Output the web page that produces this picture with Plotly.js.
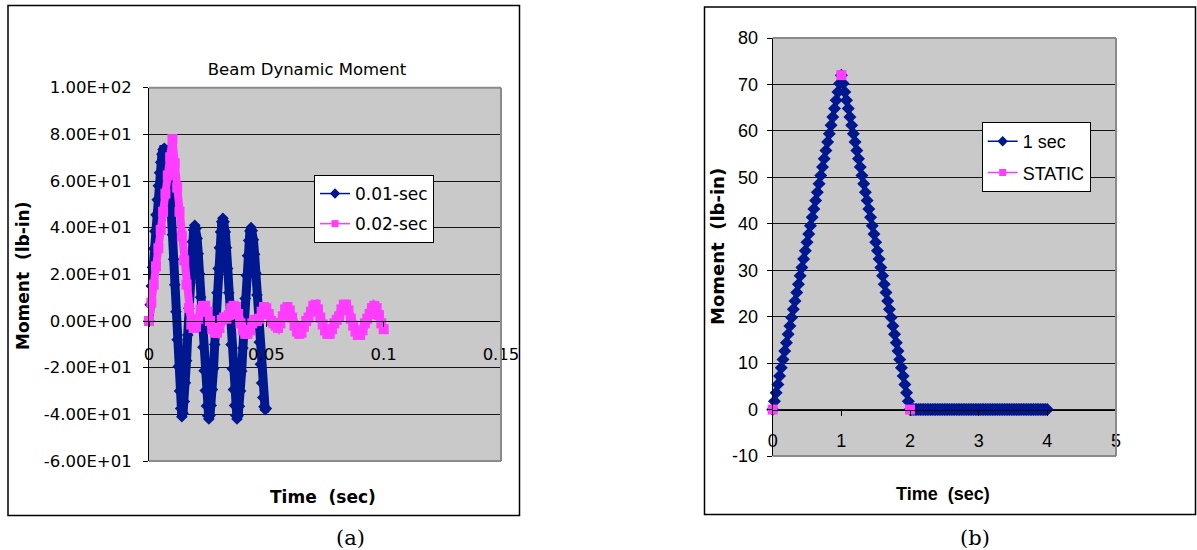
<!DOCTYPE html>
<html>
<head>
<meta charset="utf-8">
<script src="https://cdn.plot.ly/plotly-3.0.1.min.js"></script>
<style>
  html, body { margin: 0; padding: 0; background: #fff; }
  #chart { width: 1197px; height: 550px; }
</style>
</head>
<body>
<div id="chart"></div>
<script>
// ---------- panel (a): beam dynamic moment ----------
const timeA1 = [0, 0.0005, 0.001, 0.0015, 0.002, 0.0025, 0.003, 0.0035, 0.004, 0.0045,
  0.005, 0.0055, 0.006, 0.0065, 0.007, 0.0075, 0.008, 0.0085, 0.009, 0.0095,
  0.01, 0.0105, 0.011, 0.0115, 0.012, 0.0125, 0.013, 0.0135, 0.014, 0.0145,
  0.015, 0.0155, 0.016, 0.0165, 0.017, 0.0175, 0.018, 0.0185, 0.019, 0.0195,
  0.02, 0.0205, 0.021, 0.0215, 0.022, 0.0225, 0.023, 0.0235, 0.024, 0.0245,
  0.025, 0.0255, 0.026, 0.0265, 0.027, 0.0275, 0.028, 0.0285, 0.029, 0.0295,
  0.03, 0.0305, 0.031, 0.0315, 0.032, 0.0325, 0.033, 0.0335, 0.034, 0.0345,
  0.035, 0.0355, 0.036, 0.0365, 0.037, 0.0375, 0.038, 0.0385, 0.039, 0.0395,
  0.04, 0.0405, 0.041, 0.0415, 0.042, 0.0425, 0.043, 0.0435, 0.044, 0.0445,
  0.045, 0.0455, 0.046, 0.0465, 0.047, 0.0475, 0.048, 0.0485, 0.049, 0.0495, 0.05];
const moment001 = [0, 7, 15, 23, 31, 38.5, 45.5, 52, 58, 63.5,
  68, 71.5, 73.5, 74, 73.5, 71.5, 67.5, 62, 55, 46.5,
  37, 26.5, 15.5, 4, -8, -19.5, -30, -37.5, -41, -39.5,
  -34.5, -26.5, -17, -6, 5.5, 16.5, 26.5, 34, 39, 41,
  39.6, 35.4, 28.8, 20.3, 10.2, -0.5, -11.2, -21.3, -29.8, -36.4,
  -40.6, -42, -40.5, -36.2, -29.4, -20.5, -10.1, 1, 12.1, 22.5,
  31.4, 38.2, 42.5, 44, 42.5, 38.2, 31.4, 22.5, 12.1, 1,
  -10.1, -20.5, -29.4, -36.2, -40.5, -42, -40.6, -36.5, -30, -21.5,
  -11.6, -1, 9.6, 19.5, 28, 34.5, 38.6, 40, 38.7, 34.8,
  28.6, 20.5, 11.1, 1, -9.1, -18.5, -26.6, -32.8, -36.7, -38, -37.5];

const timeA2 = [0, 0.001, 0.002, 0.003, 0.004, 0.005, 0.006, 0.007, 0.008, 0.009,
  0.01, 0.011, 0.012, 0.013, 0.014, 0.015, 0.016, 0.017, 0.018, 0.019,
  0.02, 0.021, 0.022, 0.023, 0.024, 0.025, 0.026, 0.027, 0.028, 0.029,
  0.03, 0.031, 0.032, 0.033, 0.034, 0.035, 0.036, 0.037, 0.038, 0.039,
  0.04, 0.041, 0.042, 0.043, 0.044, 0.045, 0.046, 0.047, 0.048, 0.049,
  0.05, 0.051, 0.052, 0.053, 0.054, 0.055, 0.056, 0.057, 0.058, 0.059,
  0.06, 0.061, 0.062, 0.063, 0.064, 0.065, 0.066, 0.067, 0.068, 0.069,
  0.07, 0.071, 0.072, 0.073, 0.074, 0.075, 0.076, 0.077, 0.078, 0.079,
  0.08, 0.081, 0.082, 0.083, 0.084, 0.085, 0.086, 0.087, 0.088, 0.089,
  0.09, 0.091, 0.092, 0.093, 0.094, 0.095, 0.096, 0.097, 0.098, 0.099, 0.1];
const moment002 = [0, 7.8, 15.6, 23.4, 31.2, 39, 46.8, 54.6, 62.4, 70.2,
  78, 67.6, 57.2, 46.8, 36.4, 26, 15.6, 5.5, -1.5, -3,
  -2.5, 1, 5, 6.5, 6.5, 4, 0, -3.5, -5, -5,
  -3, 0.5, 1.5, 1, 2.5, 5.5, 6.5, 6, 3, -1,
  -4, -5.5, -5.5, -4, -1, 0.5, 0, 1, 4, 6,
  5.5, 3, 0, -1, -2, -3, -1, 2, 5, 6,
  4.5, 1.5, -2, -4.5, -5.5, -5, -2.5, 0, 1.5, 4,
  6.5, 7, 5, 1.5, -1.5, -4, -5.5, -5.5, -3.5, -1,
  0.5, 2, 5, 7, 7, 4.5, 1, -2, -4.5, -6,
  -6, -4, -1, 1, 3, 5.5, 6.5, 5.5, 2.5, -1, -3.5];

const xTicksA = [0, 0.05, 0.1, 0.15];
const xTickTextA = ['0', '0.05', '0.1', '0.15'];
const yTicksA = [-60, -40, -20, 0, 20, 40, 60, 80, 100];
const yTickTextA = ['-6.00E+01', '-4.00E+01', '-2.00E+01', '0.00E+00', '2.00E+01',
  '4.00E+01', '6.00E+01', '8.00E+01', '1.00E+02'];
const namesA = ['0.01-sec', '0.02-sec'];

// ---------- panel (b): 1 sec load vs static ----------
const timeB = [0, 0.025, 0.05, 0.075, 0.1, 0.125, 0.15, 0.175, 0.2, 0.225,
  0.25, 0.275, 0.3, 0.325, 0.35, 0.375, 0.4, 0.425, 0.45, 0.475,
  0.5, 0.525, 0.55, 0.575, 0.6, 0.625, 0.65, 0.675, 0.7, 0.725,
  0.75, 0.775, 0.8, 0.825, 0.85, 0.875, 0.9, 0.925, 0.95, 0.975,
  1, 1.025, 1.05, 1.075, 1.1, 1.125, 1.15, 1.175, 1.2, 1.225,
  1.25, 1.275, 1.3, 1.325, 1.35, 1.375, 1.4, 1.425, 1.45, 1.475,
  1.5, 1.525, 1.55, 1.575, 1.6, 1.625, 1.65, 1.675, 1.7, 1.725,
  1.75, 1.775, 1.8, 1.825, 1.85, 1.875, 1.9, 1.925, 1.95, 1.975,
  2, 2.025, 2.05, 2.075, 2.1, 2.125, 2.15, 2.175, 2.2, 2.225,
  2.25, 2.275, 2.3, 2.325, 2.35, 2.375, 2.4, 2.425, 2.45, 2.475,
  2.5, 2.525, 2.55, 2.575, 2.6, 2.625, 2.65, 2.675, 2.7, 2.725,
  2.75, 2.775, 2.8, 2.825, 2.85, 2.875, 2.9, 2.925, 2.95, 2.975,
  3, 3.025, 3.05, 3.075, 3.1, 3.125, 3.15, 3.175, 3.2, 3.225,
  3.25, 3.275, 3.3, 3.325, 3.35, 3.375, 3.4, 3.425, 3.45, 3.475,
  3.5, 3.525, 3.55, 3.575, 3.6, 3.625, 3.65, 3.675, 3.7, 3.725,
  3.75, 3.775, 3.8, 3.825, 3.85, 3.875, 3.9, 3.925, 3.95, 3.975, 4];
const moment1sec = [0, 1.8, 3.6, 5.4, 7.2, 9, 10.8, 12.6, 14.4, 16.2,
  18, 19.8, 21.6, 23.4, 25.2, 27, 28.8, 30.6, 32.4, 34.2,
  36, 37.8, 39.6, 41.4, 43.2, 45, 46.8, 48.6, 50.4, 52.2,
  54, 55.8, 57.6, 59.4, 61.2, 63, 64.8, 66.6, 68.4, 70.2,
  72, 70.2, 68.4, 66.6, 64.8, 63, 61.2, 59.4, 57.6, 55.8,
  54, 52.2, 50.4, 48.6, 46.8, 45, 43.2, 41.4, 39.6, 37.8,
  36, 34.2, 32.4, 30.6, 28.8, 27, 25.2, 23.4, 21.6, 19.8,
  18, 16.2, 14.4, 12.6, 10.8, 9, 7.2, 5.4, 3.6, 1.8,
  0, 0, 0, 0, 0, 0, 0, 0, 0, 0,
  0, 0, 0, 0, 0, 0, 0, 0, 0, 0,
  0, 0, 0, 0, 0, 0, 0, 0, 0, 0,
  0, 0, 0, 0, 0, 0, 0, 0, 0, 0,
  0, 0, 0, 0, 0, 0, 0, 0, 0, 0,
  0, 0, 0, 0, 0, 0, 0, 0, 0, 0,
  0, 0, 0, 0, 0, 0, 0, 0, 0, 0,
  0, 0, 0, 0, 0, 0, 0, 0, 0, 0, 0];
const timeStatic = [0, 1, 2];
const momentStatic = [0, 72, 0];

const xTicksB = [0, 1, 2, 3, 4, 5];
const xTickTextB = ['0', '1', '2', '3', '4', '5'];
const yTicksB = [-10, 0, 10, 20, 30, 40, 50, 60, 70, 80];
const yTickTextB = ['-10', '0', '10', '20', '30', '40', '50', '60', '70', '80'];
const namesB = ['1 sec', 'STATIC'];

// ---------- styling ----------
const W = 1197, H = 550;
const fx = p => p / W;          // pixel column -> paper fraction
const fy = p => 1 - p / H;      // pixel row -> paper fraction
const NAVY = '#00188f';
const PINK = '#ff3cff';
const PLOT_GRAY = '#c9c9c9';
const FRAME_GRAY = '#8a8a8a';
const SANS = 'DejaVu Sans, Verdana, sans-serif';
const ARIAL = 'Liberation Sans, Arial, sans-serif';

const domA = { x: [fx(149), fx(501)], y: [fy(461), fy(87.7)] };
const domB = { x: [fx(772.7), fx(1116)], y: [fy(456), fy(38)] };
const rangeA = { x: [0, 0.15], y: [-60, 100] };
const rangeB = { x: [0, 5], y: [-10, 80] };

// x axis crosses the y axis at zero
function zeroPos(dom, yr) {
  return dom.y[0] + (0 - yr[0]) / (yr[1] - yr[0]) * (dom.y[1] - dom.y[0]);
}

const traces = [
  // panel (a)
  { x: timeA1, y: moment001, name: namesA[0], xaxis: 'x', yaxis: 'y', mode: 'lines+markers',
    line: { color: NAVY, width: 9 }, marker: { symbol: 'diamond', size: 9, color: NAVY },
    cliponaxis: false, showlegend: false },
  { x: timeA2, y: moment002, name: namesA[1], xaxis: 'x', yaxis: 'y', mode: 'lines+markers',
    line: { color: PINK, width: 8 }, marker: { symbol: 'square', size: 10, color: PINK },
    cliponaxis: false, showlegend: false },
  { x: [null], y: [null], name: namesA[0], xaxis: 'x', yaxis: 'y', mode: 'lines+markers',
    line: { color: NAVY, width: 1.5 }, marker: { symbol: 'diamond', size: 8, color: NAVY },
    legend: 'legend', legendgroup: 'a1' },
  { x: [null], y: [null], name: namesA[1], xaxis: 'x', yaxis: 'y', mode: 'lines+markers',
    line: { color: PINK, width: 1.5 }, marker: { symbol: 'square', size: 7, color: PINK },
    legend: 'legend', legendgroup: 'a2' },
  // panel (b)
  { x: timeB, y: moment1sec, name: namesB[0], xaxis: 'x2', yaxis: 'y2', mode: 'lines+markers',
    line: { color: NAVY, width: 4 }, marker: { symbol: 'diamond', size: 10, color: NAVY },
    cliponaxis: false, showlegend: false },
  { x: timeStatic, y: momentStatic, name: namesB[1], xaxis: 'x2', yaxis: 'y2', mode: 'markers',
    marker: { symbol: 'square', size: 10, color: PINK }, cliponaxis: false, showlegend: false },
  { x: [null], y: [null], name: namesB[0], xaxis: 'x2', yaxis: 'y2', mode: 'lines+markers',
    line: { color: NAVY, width: 1.5 }, marker: { symbol: 'diamond', size: 8, color: NAVY },
    legend: 'legend2', legendgroup: 'b1' },
  { x: [null], y: [null], name: namesB[1], xaxis: 'x2', yaxis: 'y2', mode: 'lines+markers',
    line: { color: PINK, width: 1.5 }, marker: { symbol: 'square', size: 7, color: PINK },
    legend: 'legend2', legendgroup: 'b2' }
];

function xAxis(dom, xr, yr, vals, text, font, standoff) {
  return {
    domain: dom.x, range: xr, anchor: 'free', position: zeroPos(dom, yr),
    tickmode: 'array', tickvals: vals, ticktext: text,
    showgrid: false, zeroline: false, showline: true, linecolor: '#000', linewidth: 1,
    ticks: 'outside', ticklen: 5, tickcolor: '#000', tickwidth: 1,
    tickfont: font, ticklabelstandoff: standoff, fixedrange: true
  };
}
function yAxis(dom, yr, vals, text, font, anchor, standoff) {
  return {
    domain: dom.y, range: yr, anchor: anchor,
    tickmode: 'array', tickvals: vals, ticktext: text,
    showgrid: true, gridcolor: '#151515', gridwidth: 1, zeroline: false,
    showline: true, linecolor: '#000', linewidth: 1,
    ticks: 'outside', ticklen: 5, tickcolor: '#000', tickwidth: 1,
    tickfont: font, ticklabelstandoff: standoff, fixedrange: true
  };
}

const fontA = { family: SANS, size: 16.5, color: '#000' };
const fontB = { family: ARIAL, size: 18, color: '#000' };

// gray frame on top, right and bottom of each plot area
function frame(xref, yref) {
  const base = { type: 'line', xref: xref, yref: yref, layer: 'above',
    line: { color: FRAME_GRAY, width: 2 } };
  return [
    Object.assign({}, base, { x0: 0, x1: 1, y0: 1, y1: 1 }),
    Object.assign({}, base, { x0: 1, x1: 1, y0: 0, y1: 1 }),
    Object.assign({}, base, { x0: 0, x1: 1, y0: 0, y1: 0 })
  ];
}

const shapes = [
  { type: 'rect', xref: 'paper', yref: 'paper', x0: fx(8), x1: fx(519.5), y0: fy(515.5), y1: fy(5.5),
    line: { color: '#000', width: 1.5 }, fillcolor: 'rgba(0,0,0,0)', layer: 'below' },
  { type: 'rect', xref: 'paper', yref: 'paper', x0: fx(704.5), x1: fx(1195.5), y0: fy(514.5), y1: fy(7),
    line: { color: '#000', width: 1.5 }, fillcolor: 'rgba(0,0,0,0)', layer: 'below' }
].concat(frame('x domain', 'y domain'), frame('x2 domain', 'y2 domain'));

function label(text, x, y, font, angle) {
  return { text: text, xref: 'paper', yref: 'paper', x: fx(x), y: fy(y),
    xanchor: 'center', yanchor: 'middle', showarrow: false, textangle: angle || 0, font: font };
}
const boldA = { family: SANS, size: 17, color: '#000', weight: 'bold' };
const boldB = { family: ARIAL, size: 18, color: '#000', weight: 'bold' };
const serif = { family: 'DejaVu Serif, serif', size: 21, color: '#000' };

const annotations = [
  label('Moment\u00a0 (lb-in)', 23, 276, boldA, -90),
  label('Time\u00a0 (sec)', 323, 497, boldA),
  label('Moment\u00a0 (lb-in)', 717, 247, { family: SANS, size: 18, color: '#000', weight: 'bold' }, -90),
  label('Time\u00a0 (sec)', 943, 494, boldB),
  label('(a)', 350, 538, serif),
  label('(b)', 975, 538, serif)
];

const legendBase = { xanchor: 'left', yanchor: 'top', bgcolor: '#fff', bordercolor: '#000',
  borderwidth: 1, traceorder: 'grouped', tracegroupgap: 5 };

const layout = {
  width: W, height: H,
  margin: { l: 0, r: 0, t: 0, b: 0 },
  paper_bgcolor: '#fff', plot_bgcolor: PLOT_GRAY,
  showlegend: true,
  title: { text: 'Beam Dynamic Moment', xref: 'paper', yref: 'paper', x: fx(307), y: fy(69.5),
    xanchor: 'center', yanchor: 'middle', font: { family: SANS, size: 16.5, color: '#000' } },
  xaxis: xAxis(domA, rangeA.x, rangeA.y, xTicksA, xTickTextA, fontA, 13),
  yaxis: yAxis(domA, rangeA.y, yTicksA, yTickTextA, fontA, 'x', 8),
  xaxis2: xAxis(domB, rangeB.x, rangeB.y, xTicksB, xTickTextB, fontB, 10),
  yaxis2: yAxis(domB, rangeB.y, yTicksB, yTickTextB, fontB, 'x2', 5),
  legend: Object.assign({}, legendBase, { x: fx(314), y: fy(175),
    font: { family: SANS, size: 17, color: '#000' } }),
  legend2: Object.assign({}, legendBase, { x: fx(981.7), y: fy(122),
    font: { family: ARIAL, size: 18, color: '#000' } }),
  shapes: shapes,
  annotations: annotations,
  hovermode: false
};

Plotly.newPlot('chart', traces, layout, { displayModeBar: false, staticPlot: true });
</script>
</body>
</html>
